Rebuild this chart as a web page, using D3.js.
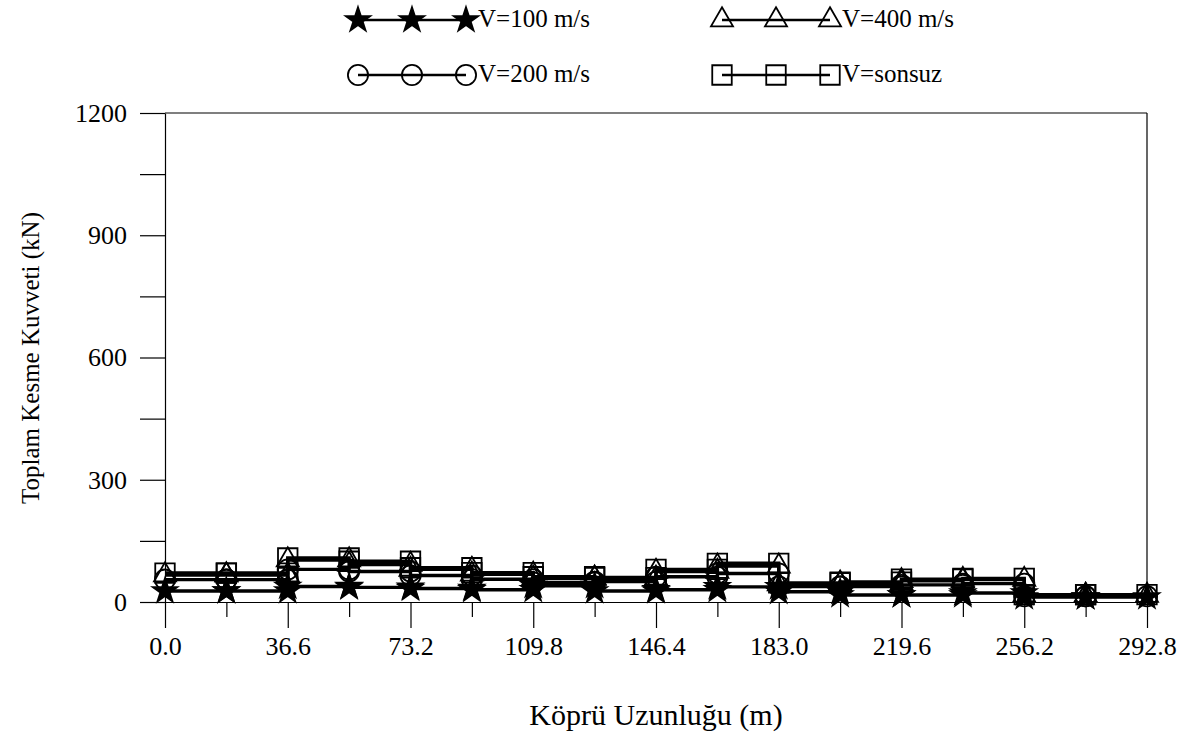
<!DOCTYPE html>
<html>
<head>
<meta charset="utf-8">
<script src="https://cdn.jsdelivr.net/npm/d3@7"></script>
<style>
  body { margin: 0; background: #fff; }
  svg { display: block; }
  text { font-family: "Liberation Serif", "Times New Roman", serif; fill: #000; }
</style>
</head>
<body>
<svg id="chart" width="1190" height="734"></svg>
<script>
// ---- data ----
const xNodes = [0, 18.3, 36.6, 54.9, 73.2, 91.5, 109.8, 128.1, 146.4, 164.7, 183.0, 201.3, 219.6, 237.9, 256.2, 274.5, 292.8];
const xTickValues = [0, 36.6, 73.2, 109.8, 146.4, 183.0, 219.6, 256.2, 292.8];
const xTickLabels = ["0.0", "36.6", "73.2", "109.8", "146.4", "183.0", "219.6", "256.2", "292.8"];
const yTickValues = [0, 300, 600, 900, 1200];
const yMinorTicks = [150, 450, 750, 1050];
const seriesNames = ["V=100 m/s", "V=200 m/s", "V=400 m/s", "V=sonsuz"];
// element (segment) shear values between consecutive nodes, kN
const v100 = [27, 27, 38, 36, 33, 30, 40, 27, 30, 37, 25, 17, 17, 22, 12, 12];
const v200 = [55, 55, 80, 75, 65, 56, 48, 50, 62, 70, 38, 38, 42, 45, 14, 14];
const v400 = [66, 66, 103, 92, 80, 68, 58, 58, 75, 88, 44, 46, 52, 55, 16, 16];
const vInf = [71, 71, 108, 100, 84, 72, 62, 60, 80, 95, 47, 49, 56, 58, 18, 18];

const svg = d3.select("#chart");
const L = 165, R = 1147, T = 113, B = 602;
const x = d3.scaleLinear().domain([0, 292.8]).range([L, R]);
const y = d3.scaleLinear().domain([0, 1200]).range([B, T]);
const FONT = "Liberation Serif";

// frame top/right
svg.append("line").attr("x1", L).attr("x2", R).attr("y1", T).attr("y2", T).attr("stroke", "#000").attr("stroke-width", 1.2);
svg.append("line").attr("x1", R).attr("x2", R).attr("y1", T).attr("y2", B).attr("stroke", "#000").attr("stroke-width", 1.2);

// x axis
const xAxis = d3.axisBottom(x).tickValues(xTickValues).tickFormat((d, i) => xTickLabels[i]).tickSize(26).tickPadding(9).tickSizeOuter(0);
const gx = svg.append("g").attr("transform", `translate(0,${B})`).call(xAxis);
gx.select(".domain").attr("stroke-width", 1.2);
gx.selectAll(".tick line").attr("stroke-width", 1.2);
gx.selectAll("text").style("font-size", "26px").style("font-family", FONT);
const xMinor = xNodes.filter(v => !xTickValues.some(t => Math.abs(t - v) < 1e-6));
svg.append("g").attr("transform", `translate(0,${B})`)
  .call(d3.axisBottom(x).tickValues(xMinor).tickFormat("").tickSize(15))
  .call(g => g.select(".domain").remove())
  .selectAll(".tick line").attr("stroke-width", 1.2);

// y axis
const yAxis = d3.axisLeft(y).tickValues(yTickValues).tickFormat(d3.format("d")).tickSize(25).tickPadding(13).tickSizeOuter(0);
const gy = svg.append("g").attr("transform", `translate(${L},0)`).call(yAxis);
gy.select(".domain").attr("stroke-width", 1.2);
gy.selectAll(".tick line").attr("stroke-width", 1.2);
gy.selectAll("text").style("font-size", "26px").style("font-family", FONT);
svg.append("g").attr("transform", `translate(${L},0)`)
  .call(d3.axisLeft(y).tickValues(yMinorTicks).tickFormat("").tickSize(25))
  .call(g => g.select(".domain").remove())
  .selectAll(".tick line").attr("stroke-width", 1.2);

// axis titles
svg.append("text").attr("x", 656).attr("y", 714).attr("text-anchor", "middle").attr("dominant-baseline", "central").style("font-size", "30px").text("Köprü Uzunluğu (m)");
svg.append("text").attr("transform", "translate(30,358) rotate(-90)").attr("text-anchor", "middle").attr("dominant-baseline", "central").style("font-size", "25px").text("Toplam Kesme Kuvveti (kN)");

// symbols
const symbols = [
  { type: d3.symbolStar, size: 185, fill: "#000" },
  { type: d3.symbolCircle, size: 320, fill: "none" },
  { type: d3.symbolTriangle, size: 210, fill: "none" },
  { type: d3.symbolSquare, size: 380, fill: "none" }
];
const allSeries = [v100, v200, v400, vInf];

function toPoints(vals) {
  const pts = [];
  xNodes.forEach((xv, i) => {
    if (i > 0) pts.push([xv, vals[i - 1]]);
    if (i < vals.length) pts.push([xv, vals[i]]);
  });
  return pts;
}

const line = d3.line().x(d => x(d[0])).y(d => y(d[1]));
allSeries.forEach((vals, si) => {
  const pts = toPoints(vals);
  const g = svg.append("g");
  g.append("path").attr("d", line(pts)).attr("fill", "none").attr("stroke", "#000").attr("stroke-width", 3.4);
  const sym = symbols[si];
  g.selectAll("path.m").data(pts).join("path").attr("class", "m")
    .attr("transform", d => `translate(${x(d[0])},${y(d[1])})`)
    .attr("d", d3.symbol().type(sym.type).size(sym.size))
    .attr("fill", sym.fill).attr("stroke", "#000").attr("stroke-width", 1.8);
});

// legend
const legendPos = [
  { x0: 358, y0: 20 }, { x0: 358, y0: 75 }, { x0: 722, y0: 20 }, { x0: 722, y0: 75 }
];
seriesNames.forEach((name, si) => {
  const p = legendPos[si];
  const g = svg.append("g");
  g.append("line").attr("x1", p.x0).attr("x2", p.x0 + 108).attr("y1", p.y0).attr("y2", p.y0).attr("stroke", "#000").attr("stroke-width", 2.5);
  [0, 54, 108].forEach(dx => {
    g.append("path").attr("transform", `translate(${p.x0 + dx},${p.y0})`)
      .attr("d", d3.symbol().type(symbols[si].type).size(symbols[si].size))
      .attr("fill", symbols[si].fill).attr("stroke", "#000").attr("stroke-width", 1.8);
  });
  g.append("text").attr("x", p.x0 + 120).attr("y", p.y0 - 2).attr("dominant-baseline", "central").style("font-size", "25px").text(name);
});
</script>
</body>
</html>
